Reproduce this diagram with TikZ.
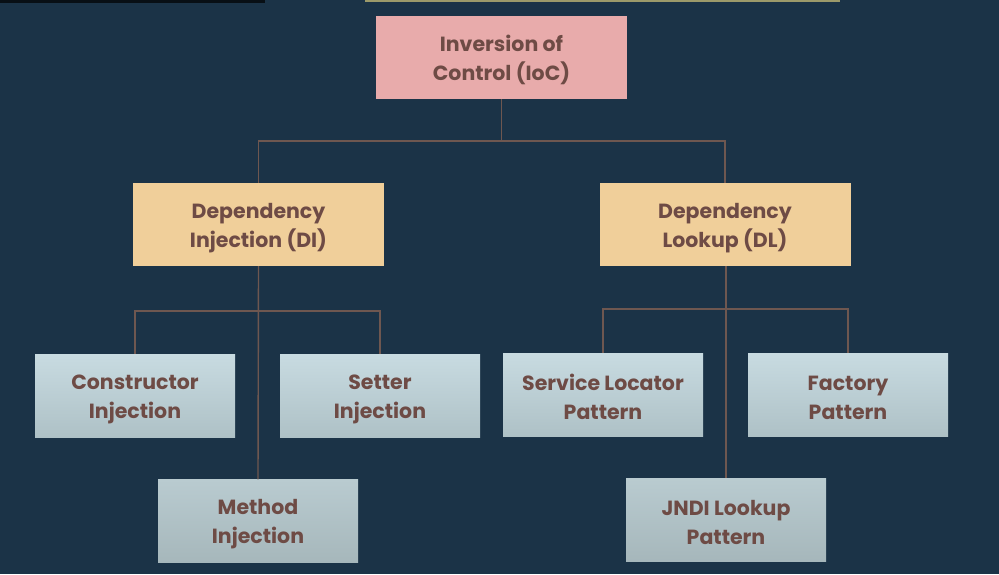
\documentclass[tikz,border=0pt]{standalone}
\usepackage{fontspec}
\setmainfont{Poppins}
\usetikzlibrary{positioning}
\definecolor{bg}{HTML}{1B3347}
\definecolor{pinkbox}{HTML}{E8ABAB}
\definecolor{sandbox}{HTML}{F0CF9A}
\definecolor{bluetop}{HTML}{C8DBE1}
\definecolor{bluebot}{HTML}{AEC1C6}
\definecolor{greytop}{HTML}{B9CBD0}
\definecolor{greybot}{HTML}{A6B7BB}
\definecolor{txt}{HTML}{6E4B45}
\definecolor{wire}{HTML}{6E5750}
\definecolor{topline}{HTML}{9C9A6A}
\newcommand{\topstrut}{\rule{0pt}{22pt}}
\tikzset{
  box/.style={rectangle, inner sep=0pt, align=center, text=txt,
    font=\fontsize{20.5}{29}\selectfont\bfseries},
  rootbox/.style={box, fill=pinkbox, minimum width=251pt, minimum height=83pt},
  midbox/.style={box, fill=sandbox, minimum width=251pt, minimum height=83pt},
  leafbox/.style={box, top color=bluetop, bottom color=bluebot, minimum width=200pt, minimum height=83pt},
  lowleafbox/.style={box, top color=greytop, bottom color=greybot, minimum width=200pt, minimum height=83pt},
  wireline/.style={draw=wire, line width=1.4pt}
}
\begin{document}
\begin{tikzpicture}[x=1pt,y=-1pt]
\fill[bg] (0,0) rectangle (999,574);
\useasboundingbox (0,0) rectangle (999,574);
% screen artifacts at top edge
\fill[black!70!bg] (0,0) rectangle (265,3);
\fill[topline] (365,0) rectangle (840,2);

\node[rootbox] (ioc) at (501.5,57.5) {\topstrut Inversion of\\Control (IoC)};
\node[midbox] (di) at (258.5,224.5) {\topstrut Dependency\\Injection (DI)};
\node[midbox] (dl) at (725,224.5) {\topstrut Dependency\\Lookup (DL)};

\node[leafbox] (ci) at (135,395.5) {\topstrut Constructor\\Injection};
\node[leafbox] (si) at (380,395.5) {\topstrut Setter\\Injection};
\node[lowleafbox] (mi) at (258,521) {\topstrut Method\\Injection};

\node[leafbox] (sl) at (603,394.5) {\topstrut Service Locator\\Pattern};
\node[leafbox] (fp) at (848,394.5) {\topstrut Factory\\Pattern};
\node[lowleafbox] (jn) at (726,519.5) {\topstrut JNDI Lookup\\Pattern};

\coordinate (j0) at (501.5,141);
\coordinate (j1) at (258.5,311);
\coordinate (j2) at (727,309);

\draw[wireline] (ioc.south) -- (j0);
\draw[wireline] (j0) -| (di.north);
\draw[wireline] (j0) -| (dl.north);

\draw[wireline] (di.south) -- (mi.north);
\draw[wireline] (j1) -| (ci.north);
\draw[wireline] (j1) -| (si.north);

\draw[wireline] (dl.south -| jn.north) -- (jn.north);
\draw[wireline] (j2) -| (sl.north);
\draw[wireline] (j2) -| (fp.north);
\end{tikzpicture}
\end{document}
